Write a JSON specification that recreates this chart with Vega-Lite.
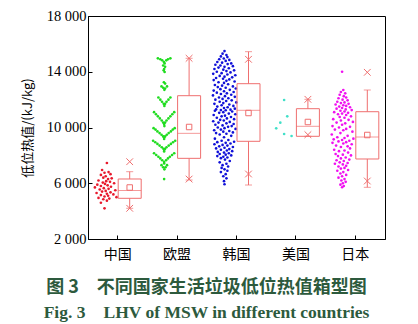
{
"$schema": "https://vega.github.io/schema/vega-lite/v6.json",
"width": 297, "height": 223,
"autosize": {"type": "none"},
"padding": {"left": 88, "top": 16, "right": 33, "bottom": 85},
"background": "white",
"config": {"view": {"stroke": "black", "strokeWidth": 1}, "axis": {"grid": false, "domainColor": "black", "tickColor": "black", "labelColor": "black", "titleColor": "black"}},
"title": {"text": "图 3　不同国家生活垃圾低位热值箱型图", "subtitle": "Fig. 3　LHV of MSW in different countries", "orient": "bottom", "anchor": "middle", "frame": "group", "dx": -30, "offset": 18, "font": "Noto Sans CJK SC", "fontSize": 18, "fontWeight": "bold", "color": "#2d5a3d", "subtitleFont": "Liberation Serif", "subtitleFontSize": 17.5, "subtitleFontWeight": "bold", "subtitleColor": "#2d5a3d", "subtitlePadding": 7},
"datasets": {
"box": [
{"c":"中国","q1":4920,"q3":6305,"med":5480,"mean":5695,"lo":4203,"hi":6829,"xlo":4203,"xhi":7546},
{"c":"欧盟","q1":7788,"q3":12282,"med":9581,"mean":10036,"lo":6233,"hi":14965,"xlo":6300,"xhi":14965},
{"c":"韩国","q1":9009,"q3":13143,"med":11234,"mean":11040,"lo":5874,"hi":15440,"xlo":6664,"xhi":14893},
{"c":"美国","q1":9368,"q3":11349,"med":10086,"mean":10395,"lo":9368,"hi":12023,"xlo":9483,"xhi":12023},
{"c":"日本","q1":7740,"q3":11133,"med":9318,"mean":9462,"lo":5709,"hi":12690,"xlo":6161,"xhi":13960}
],
"pts": [
{"c":"中国","v":7450,"j":0.55},{"c":"中国","v":6950,"j":0.35},{"c":"中国","v":6800,"j":0.62},{"c":"中国","v":6750,"j":0.45},{"c":"中国","v":6650,"j":0.7},{"c":"中国","v":6600,"j":0.3},{"c":"中国","v":6500,"j":0.5},{"c":"中国","v":6400,"j":0.4},{"c":"中国","v":6350,"j":0.75},{"c":"中国","v":6300,"j":0.6},{"c":"中国","v":6200,"j":0.2},{"c":"中国","v":6150,"j":0.52},{"c":"中国","v":6100,"j":0.68},{"c":"中国","v":6050,"j":0.38},{"c":"中国","v":6000,"j":0.85},{"c":"中国","v":5950,"j":0.47},{"c":"中国","v":5900,"j":0.15},{"c":"中国","v":5850,"j":0.58},{"c":"中国","v":5800,"j":0.3},{"c":"中国","v":5750,"j":0.72},{"c":"中国","v":5700,"j":0.05},{"c":"中国","v":5650,"j":0.42},{"c":"中国","v":5600,"j":0.62},{"c":"中国","v":5550,"j":0.25},{"c":"中国","v":5500,"j":0.9},{"c":"中国","v":5450,"j":0.5},{"c":"中国","v":5400,"j":0.35},{"c":"中国","v":5350,"j":0.7},{"c":"中国","v":5300,"j":0.12},{"c":"中国","v":5250,"j":0.55},{"c":"中国","v":5200,"j":0.82},{"c":"中国","v":5150,"j":0.3},{"c":"中国","v":5100,"j":0.6},{"c":"中国","v":5050,"j":0.45},{"c":"中国","v":5000,"j":0.95},{"c":"中国","v":4950,"j":0.2},{"c":"中国","v":4900,"j":0.65},{"c":"中国","v":4850,"j":0.4},{"c":"中国","v":4750,"j":0.55},{"c":"中国","v":4600,"j":0.3},{"c":"中国","v":4200,"j":0.45},
{"c":"欧盟","v":14960,"j":0.2},{"c":"欧盟","v":14960,"j":0.72},{"c":"欧盟","v":14900,"j":0.3},{"c":"欧盟","v":14900,"j":0.62},{"c":"欧盟","v":14820,"j":0.38},{"c":"欧盟","v":14820,"j":0.55},{"c":"欧盟","v":14700,"j":0.45},{"c":"欧盟","v":14600,"j":0.48},{"c":"欧盟","v":14450,"j":0.42},{"c":"欧盟","v":14350,"j":0.5},{"c":"欧盟","v":14200,"j":0.46},{"c":"欧盟","v":14100,"j":0.44},{"c":"欧盟","v":13980,"j":0.48},
{"c":"欧盟","v":13250,"j":0.45},{"c":"欧盟","v":13150,"j":0.5},{"c":"欧盟","v":12950,"j":0.35},{"c":"欧盟","v":12950,"j":0.58},{"c":"欧盟","v":12850,"j":0.42},{"c":"欧盟","v":12800,"j":0.5},{"c":"欧盟","v":12700,"j":0.47},
{"c":"欧盟","v":12150,"j":0.22},{"c":"欧盟","v":12150,"j":0.72},{"c":"欧盟","v":12000,"j":0.3},{"c":"欧盟","v":12000,"j":0.64},{"c":"欧盟","v":11850,"j":0.37},{"c":"欧盟","v":11850,"j":0.56},{"c":"欧盟","v":11700,"j":0.44},{"c":"欧盟","v":11700,"j":0.5},{"c":"欧盟","v":11550,"j":0.47},
{"c":"欧盟","v":11100,"j":0.04},{"c":"欧盟","v":11100,"j":0.88},{"c":"欧盟","v":10950,"j":0.12},{"c":"欧盟","v":10950,"j":0.8},{"c":"欧盟","v":10800,"j":0.2},{"c":"欧盟","v":10800,"j":0.72},{"c":"欧盟","v":10650,"j":0.28},{"c":"欧盟","v":10650,"j":0.64},{"c":"欧盟","v":10500,"j":0.36},{"c":"欧盟","v":10500,"j":0.56},{"c":"欧盟","v":10350,"j":0.42},{"c":"欧盟","v":10350,"j":0.5},{"c":"欧盟","v":10250,"j":0.46},{"c":"欧盟","v":10100,"j":0.47},
{"c":"欧盟","v":9950,"j":0.02},{"c":"欧盟","v":9950,"j":0.9},{"c":"欧盟","v":9850,"j":0.1},{"c":"欧盟","v":9850,"j":0.82},{"c":"欧盟","v":9720,"j":0.18},{"c":"欧盟","v":9720,"j":0.74},{"c":"欧盟","v":9600,"j":0.27},{"c":"欧盟","v":9600,"j":0.65},{"c":"欧盟","v":9480,"j":0.35},{"c":"欧盟","v":9480,"j":0.57},{"c":"欧盟","v":9360,"j":0.42},{"c":"欧盟","v":9360,"j":0.5},{"c":"欧盟","v":9280,"j":0.46},{"c":"欧盟","v":9180,"j":0.46},
{"c":"欧盟","v":9050,"j":0.0},{"c":"欧盟","v":9050,"j":0.92},{"c":"欧盟","v":8940,"j":0.09},{"c":"欧盟","v":8940,"j":0.83},{"c":"欧盟","v":8820,"j":0.18},{"c":"欧盟","v":8820,"j":0.74},{"c":"欧盟","v":8700,"j":0.27},{"c":"欧盟","v":8700,"j":0.65},{"c":"欧盟","v":8580,"j":0.36},{"c":"欧盟","v":8580,"j":0.56},{"c":"欧盟","v":8470,"j":0.43},{"c":"欧盟","v":8470,"j":0.5},{"c":"欧盟","v":8380,"j":0.46},{"c":"欧盟","v":8280,"j":0.46},
{"c":"欧盟","v":8150,"j":0.04},{"c":"欧盟","v":8150,"j":0.88},{"c":"欧盟","v":8030,"j":0.13},{"c":"欧盟","v":8030,"j":0.79},{"c":"欧盟","v":7900,"j":0.22},{"c":"欧盟","v":7900,"j":0.7},{"c":"欧盟","v":7780,"j":0.3},{"c":"欧盟","v":7780,"j":0.62},{"c":"欧盟","v":7650,"j":0.38},{"c":"欧盟","v":7650,"j":0.54},{"c":"欧盟","v":7520,"j":0.46},{"c":"欧盟","v":7420,"j":0.46},
{"c":"欧盟","v":7300,"j":0.35},{"c":"欧盟","v":7300,"j":0.58},{"c":"欧盟","v":7150,"j":0.42},{"c":"欧盟","v":7150,"j":0.52},{"c":"欧盟","v":7000,"j":0.47},{"c":"欧盟","v":6300,"j":0.46},
{"c":"韩国","v":15480,"j":0.5},{"c":"韩国","v":15300,"j":0.42},{"c":"韩国","v":15200,"j":0.58},{"c":"韩国","v":15100,"j":0.35},{"c":"韩国","v":15050,"j":0.62},{"c":"韩国","v":14950,"j":0.47},{"c":"韩国","v":14900,"j":0.28},{"c":"韩国","v":14850,"j":0.7},{"c":"韩国","v":14780,"j":0.55},{"c":"韩国","v":14700,"j":0.2},{"c":"韩国","v":14650,"j":0.4},{"c":"韩国","v":14600,"j":0.78},{"c":"韩国","v":14550,"j":0.63},{"c":"韩国","v":14500,"j":0.12},{"c":"韩国","v":14450,"j":0.33},{"c":"韩国","v":14400,"j":0.85},{"c":"韩国","v":14350,"j":0.5},{"c":"韩国","v":14300,"j":0.25},{"c":"韩国","v":14250,"j":0.68},{"c":"韩国","v":14200,"j":0.08},{"c":"韩国","v":14150,"j":0.45},{"c":"韩国","v":14100,"j":0.9},{"c":"韩国","v":14050,"j":0.58},{"c":"韩国","v":14000,"j":0.18},{"c":"韩国","v":13950,"j":0.75},{"c":"韩国","v":13900,"j":0.38},{"c":"韩国","v":13850,"j":0.03},{"c":"韩国","v":13800,"j":0.62},{"c":"韩国","v":13750,"j":0.95},{"c":"韩国","v":13700,"j":0.3},{"c":"韩国","v":13650,"j":0.5},{"c":"韩国","v":13600,"j":0.82},{"c":"韩国","v":13550,"j":0.15},{"c":"韩国","v":13500,"j":0.44},{"c":"韩国","v":13450,"j":0.7},{"c":"韩国","v":13400,"j":0.05},{"c":"韩国","v":13350,"j":0.58},{"c":"韩国","v":13300,"j":0.92},{"c":"韩国","v":13250,"j":0.25},{"c":"韩国","v":13200,"j":0.48},
{"c":"韩国","v":13100,"j":0.65},{"c":"韩国","v":13050,"j":0.1},{"c":"韩国","v":13000,"j":0.4},{"c":"韩国","v":12950,"j":0.85},{"c":"韩国","v":12900,"j":0.22},{"c":"韩国","v":12850,"j":0.55},{"c":"韩国","v":12800,"j":0.97},{"c":"韩国","v":12750,"j":0.33},{"c":"韩国","v":12700,"j":0.72},{"c":"韩国","v":12650,"j":0.05},{"c":"韩国","v":12600,"j":0.48},{"c":"韩国","v":12550,"j":0.88},{"c":"韩国","v":12500,"j":0.18},{"c":"韩国","v":12450,"j":0.6},{"c":"韩国","v":12400,"j":0.35},{"c":"韩国","v":12350,"j":0.78},{"c":"韩国","v":12300,"j":0.02},{"c":"韩国","v":12250,"j":0.52},{"c":"韩国","v":12200,"j":0.93},{"c":"韩国","v":12150,"j":0.27},{"c":"韩国","v":12100,"j":0.66},{"c":"韩国","v":12050,"j":0.42},{"c":"韩国","v":12000,"j":0.12},{"c":"韩国","v":11950,"j":0.8},{"c":"韩国","v":11900,"j":0.57},{"c":"韩国","v":11850,"j":0.3},{"c":"韩国","v":11800,"j":0.99},{"c":"韩国","v":11750,"j":0.45},{"c":"韩国","v":11700,"j":0.08},{"c":"韩国","v":11650,"j":0.7},{"c":"韩国","v":11600,"j":0.38},{"c":"韩国","v":11550,"j":0.87},{"c":"韩国","v":11500,"j":0.2},{"c":"韩国","v":11450,"j":0.63},{"c":"韩国","v":11400,"j":0.48},{"c":"韩国","v":11350,"j":0.93},{"c":"韩国","v":11300,"j":0.15},{"c":"韩国","v":11280,"j":0.75},{"c":"韩国","v":11250,"j":0.35},{"c":"韩国","v":11240,"j":0.55},
{"c":"韩国","v":11200,"j":0.1},{"c":"韩国","v":11150,"j":0.82},{"c":"韩国","v":11100,"j":0.45},{"c":"韩国","v":11050,"j":0.28},{"c":"韩国","v":11000,"j":0.68},{"c":"韩国","v":10950,"j":0.95},{"c":"韩国","v":10900,"j":0.05},{"c":"韩国","v":10850,"j":0.52},{"c":"韩国","v":10800,"j":0.38},{"c":"韩国","v":10750,"j":0.77},{"c":"韩国","v":10700,"j":0.18},{"c":"韩国","v":10650,"j":0.6},{"c":"韩国","v":10600,"j":0.9},{"c":"韩国","v":10550,"j":0.32},{"c":"韩国","v":10500,"j":0.47},{"c":"韩国","v":10450,"j":0.03},{"c":"韩国","v":10400,"j":0.72},{"c":"韩国","v":10350,"j":0.25},{"c":"韩国","v":10300,"j":0.58},{"c":"韩国","v":10250,"j":0.88},{"c":"韩国","v":10200,"j":0.12},{"c":"韩国","v":10150,"j":0.42},{"c":"韩国","v":10100,"j":0.8},{"c":"韩国","v":10050,"j":0.65},{"c":"韩国","v":10000,"j":0.22},{"c":"韩国","v":9950,"j":0.5},{"c":"韩国","v":9900,"j":0.96},{"c":"韩国","v":9850,"j":0.35},{"c":"韩国","v":9800,"j":0.07},{"c":"韩国","v":9750,"j":0.7},{"c":"韩国","v":9700,"j":0.45},{"c":"韩国","v":9650,"j":0.85},{"c":"韩国","v":9600,"j":0.15},{"c":"韩国","v":9550,"j":0.58},{"c":"韩国","v":9500,"j":0.3},{"c":"韩国","v":9400,"j":0.78},{"c":"韩国","v":9300,"j":0.48},{"c":"韩国","v":9200,"j":0.1},{"c":"韩国","v":9100,"j":0.66},{"c":"韩国","v":9050,"j":0.38},
{"c":"韩国","v":8980,"j":0.9},{"c":"韩国","v":8950,"j":0.2},{"c":"韩国","v":8900,"j":0.55},{"c":"韩国","v":8850,"j":0.75},{"c":"韩国","v":8800,"j":0.08},{"c":"韩国","v":8750,"j":0.42},{"c":"韩国","v":8700,"j":0.62},{"c":"韩国","v":8650,"j":0.28},{"c":"韩国","v":8600,"j":0.85},{"c":"韩国","v":8550,"j":0.5},{"c":"韩国","v":8500,"j":0.15},{"c":"韩国","v":8450,"j":0.7},{"c":"韩国","v":8400,"j":0.35},{"c":"韩国","v":8350,"j":0.6},{"c":"韩国","v":8300,"j":0.82},{"c":"韩国","v":8250,"j":0.22},{"c":"韩国","v":8200,"j":0.48},{"c":"韩国","v":8150,"j":0.68},{"c":"韩国","v":8100,"j":0.3},{"c":"韩国","v":8050,"j":0.55},{"c":"韩国","v":8000,"j":0.78},{"c":"韩国","v":7950,"j":0.2},{"c":"韩国","v":7900,"j":0.45},{"c":"韩国","v":7850,"j":0.62},{"c":"韩国","v":7800,"j":0.35},{"c":"韩国","v":7700,"j":0.52},{"c":"韩国","v":7600,"j":0.72},{"c":"韩国","v":7500,"j":0.3},{"c":"韩国","v":7400,"j":0.58},{"c":"韩国","v":7300,"j":0.42},{"c":"韩国","v":7200,"j":0.65},{"c":"韩国","v":7100,"j":0.38},{"c":"韩国","v":7000,"j":0.5},{"c":"韩国","v":6900,"j":0.62},{"c":"韩国","v":6800,"j":0.35},{"c":"韩国","v":6650,"j":0.55},{"c":"韩国","v":6500,"j":0.45},{"c":"韩国","v":6350,"j":0.58},{"c":"韩国","v":6150,"j":0.48},{"c":"韩国","v":5930,"j":0.5},
{"c":"美国","v":11973,"j":0.51},{"c":"美国","v":10803,"j":0.64},{"c":"美国","v":10345,"j":0.35},{"c":"美国","v":9940,"j":0.18},{"c":"美国","v":9533,"j":0.51},{"c":"美国","v":9390,"j":0.82},
{"c":"日本","v":14000,"j":0.45},{"c":"日本","v":12690,"j":0.5},{"c":"日本","v":12550,"j":0.4},{"c":"日本","v":12450,"j":0.58},{"c":"日本","v":12350,"j":0.35},{"c":"日本","v":12250,"j":0.52},{"c":"日本","v":12150,"j":0.62},{"c":"日本","v":12100,"j":0.3},{"c":"日本","v":12000,"j":0.47},{"c":"日本","v":11950,"j":0.68},{"c":"日本","v":11850,"j":0.25},{"c":"日本","v":11800,"j":0.55},{"c":"日本","v":11750,"j":0.4},{"c":"日本","v":11700,"j":0.72},{"c":"日本","v":11650,"j":0.18},{"c":"日本","v":11600,"j":0.5},{"c":"日本","v":11550,"j":0.62},{"c":"日本","v":11500,"j":0.33},{"c":"日本","v":11450,"j":0.78},{"c":"日本","v":11400,"j":0.45},{"c":"日本","v":11350,"j":0.22},{"c":"日本","v":11300,"j":0.6},{"c":"日本","v":11250,"j":0.85},{"c":"日本","v":11200,"j":0.38},{"c":"日本","v":11150,"j":0.55},
{"c":"日本","v":11100,"j":0.12},{"c":"日本","v":11050,"j":0.7},{"c":"日本","v":11000,"j":0.45},{"c":"日本","v":10950,"j":0.28},{"c":"日本","v":10900,"j":0.62},{"c":"日本","v":10800,"j":0.82},{"c":"日本","v":10750,"j":0.35},{"c":"日本","v":10700,"j":0.55},{"c":"日本","v":10600,"j":0.08},{"c":"日本","v":10550,"j":0.72},{"c":"日本","v":10500,"j":0.4},{"c":"日本","v":10400,"j":0.9},{"c":"日本","v":10350,"j":0.22},{"c":"日本","v":10300,"j":0.58},{"c":"日本","v":10200,"j":0.45},{"c":"日本","v":10100,"j":0.05},{"c":"日本","v":10050,"j":0.78},{"c":"日本","v":10000,"j":0.32},{"c":"日本","v":9900,"j":0.62},{"c":"日本","v":9850,"j":0.15},{"c":"日本","v":9800,"j":0.5},{"c":"日本","v":9700,"j":0.88},{"c":"日本","v":9600,"j":0.38},{"c":"日本","v":9500,"j":0.02},{"c":"日本","v":9400,"j":0.68},
{"c":"日本","v":9300,"j":0.25},{"c":"日本","v":9250,"j":0.55},{"c":"日本","v":9200,"j":0.92},{"c":"日本","v":9150,"j":0.1},{"c":"日本","v":9100,"j":0.45},{"c":"日本","v":9050,"j":0.75},{"c":"日本","v":9000,"j":0.3},{"c":"日本","v":8950,"j":0.62},{"c":"日本","v":8900,"j":0.05},{"c":"日本","v":8850,"j":0.5},{"c":"日本","v":8800,"j":0.85},{"c":"日本","v":8700,"j":0.2},{"c":"日本","v":8650,"j":0.68},{"c":"日本","v":8600,"j":0.4},{"c":"日本","v":8500,"j":0.78},{"c":"日本","v":8400,"j":0.12},{"c":"日本","v":8350,"j":0.55},{"c":"日本","v":8300,"j":0.32},{"c":"日本","v":8200,"j":0.7},{"c":"日本","v":8100,"j":0.18},{"c":"日本","v":8050,"j":0.48},{"c":"日本","v":8000,"j":0.82},{"c":"日本","v":7950,"j":0.28},{"c":"日本","v":7850,"j":0.6},{"c":"日本","v":7780,"j":0.4},
{"c":"日本","v":7700,"j":0.75},{"c":"日本","v":7650,"j":0.22},{"c":"日本","v":7600,"j":0.52},{"c":"日本","v":7500,"j":0.35},{"c":"日本","v":7450,"j":0.68},{"c":"日本","v":7400,"j":0.15},{"c":"日本","v":7350,"j":0.48},{"c":"日本","v":7250,"j":0.62},{"c":"日本","v":7200,"j":0.3},{"c":"日本","v":7100,"j":0.55},{"c":"日本","v":7050,"j":0.4},{"c":"日本","v":6950,"j":0.7},{"c":"日本","v":6900,"j":0.25},{"c":"日本","v":6800,"j":0.5},{"c":"日本","v":6700,"j":0.38},{"c":"日本","v":6600,"j":0.62},{"c":"日本","v":6500,"j":0.45},{"c":"日本","v":6400,"j":0.3},{"c":"日本","v":6300,"j":0.55},{"c":"日本","v":6200,"j":0.42},{"c":"日本","v":6100,"j":0.6},{"c":"日本","v":6000,"j":0.48},{"c":"日本","v":5900,"j":0.38},{"c":"日本","v":5800,"j":0.52},{"c":"日本","v":5710,"j":0.45}
]
},
"encoding": {
  "x": {"field": "c", "type": "nominal", "title": null, "scale": {"type": "band", "domain": ["中国","欧盟","韩国","美国","日本"], "paddingInner": 0, "paddingOuter": 0}, "axis": {"title": null, "labelAngle": 0, "labelFont": "Noto Sans CJK SC", "labelFontSize": 14, "tickSize": -4, "labelPadding": 12}}
},
"layer": [
{"data": {"name": "pts"}, "mark": {"type": "circle", "size": 7, "opacity": 1},
 "encoding": {
  "xOffset": {"field": "j", "type": "quantitative", "scale": {"domain": [0, 1], "range": [5.7, 29.7]}},
  "y": {"field": "v", "type": "quantitative", "title": "低位热值/(kJ/kg)", "scale": {"domain": [2000, 18000], "nice": false}, "axis": {"title": "低位热值/(kJ/kg)", "titleFont": "Noto Sans CJK SC", "titleFontSize": 13, "titleFontWeight": "normal", "titlePadding": 12, "values": [2000,3000,4000,5000,6000,7000,8000,9000,10000,11000,12000,13000,14000,15000,16000,17000,18000], "labelExpr": "(datum.value - 2000) % 4000 === 0 ? replace(format(datum.value, ','), ',', ' ') : ''", "labelFont": "Liberation Serif", "labelFontSize": 14.5, "tickSize": -4, "labelPadding": 6}},
  "color": {"field": "c", "type": "nominal", "scale": {"domain": ["中国","欧盟","韩国","美国","日本"], "range": ["#e8192c","#1fdc1f","#1010d8","#40e0c8","#f010f0"]}, "legend": null}
 }},
{"data": {"name": "box"}, "mark": {"type": "rule", "color": "#ef6f6f", "strokeWidth": 1, "xOffset": 12},
 "encoding": {"y": {"field": "q3", "type": "quantitative", "title": "低位热值/(kJ/kg)"}, "y2": {"field": "hi"}}},
{"data": {"name": "box"}, "mark": {"type": "rule", "color": "#ef6f6f", "strokeWidth": 1, "xOffset": 12},
 "encoding": {"y": {"field": "q1", "type": "quantitative", "title": "低位热值/(kJ/kg)"}, "y2": {"field": "lo"}}},
{"data": {"name": "box"}, "mark": {"type": "bar", "width": 23, "xOffset": 12, "fill": "white", "fillOpacity": 0, "stroke": "#ef6f6f", "strokeWidth": 1},
 "encoding": {"y": {"field": "q3", "type": "quantitative", "title": "低位热值/(kJ/kg)"}, "y2": {"field": "q1"}}},
{"data": {"name": "box"}, "mark": {"type": "tick", "size": 23, "thickness": 1, "xOffset": 12, "color": "#ef6f6f"},
 "encoding": {"y": {"field": "med", "type": "quantitative", "title": "低位热值/(kJ/kg)"}}},
{"data": {"name": "box"}, "mark": {"type": "tick", "size": 7, "thickness": 1, "xOffset": 12, "color": "#ef6f6f"},
 "encoding": {"y": {"field": "hi", "type": "quantitative", "title": "低位热值/(kJ/kg)"}}},
{"data": {"name": "box"}, "mark": {"type": "tick", "size": 7, "thickness": 1, "xOffset": 12, "color": "#ef6f6f"},
 "encoding": {"y": {"field": "lo", "type": "quantitative", "title": "低位热值/(kJ/kg)"}}},
{"data": {"name": "box"}, "mark": {"type": "point", "shape": "square", "size": 30, "filled": false, "strokeWidth": 1, "xOffset": 12, "color": "#ef6f6f", "opacity": 1},
 "encoding": {"y": {"field": "mean", "type": "quantitative", "title": "低位热值/(kJ/kg)"}}},
{"data": {"name": "box"}, "mark": {"type": "point", "shape": "M-1,-1L1,1M-1,1L1,-1", "size": 45, "filled": false, "strokeWidth": 1, "xOffset": 12, "color": "#ef6f6f", "opacity": 1},
 "encoding": {"y": {"field": "xhi", "type": "quantitative", "title": "低位热值/(kJ/kg)"}}},
{"data": {"name": "box"}, "mark": {"type": "point", "shape": "M-1,-1L1,1M-1,1L1,-1", "size": 45, "filled": false, "strokeWidth": 1, "xOffset": 12, "color": "#ef6f6f", "opacity": 1},
 "encoding": {"y": {"field": "xlo", "type": "quantitative", "title": "低位热值/(kJ/kg)"}}}
]
}
